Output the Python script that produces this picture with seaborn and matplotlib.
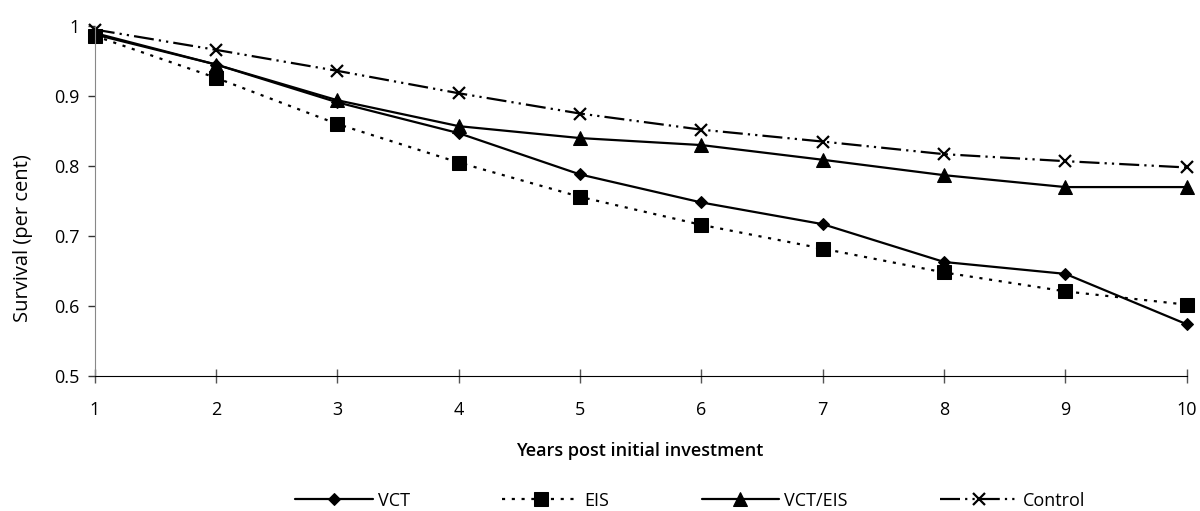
import matplotlib
matplotlib.use("Agg")
import matplotlib.pyplot as plt
import seaborn as sns
import pandas as pd

years = [1, 2, 3, 4, 5, 6, 7, 8, 9, 10]
vct = [0.988, 0.945, 0.891, 0.847, 0.788, 0.748, 0.717, 0.663, 0.646, 0.574]
eis = [0.986, 0.926, 0.860, 0.805, 0.756, 0.716, 0.682, 0.648, 0.621, 0.602]
vct_eis = [0.990, 0.945, 0.894, 0.857, 0.840, 0.830, 0.809, 0.787, 0.770, 0.770]
control = [0.995, 0.966, 0.936, 0.904, 0.875, 0.852, 0.835, 0.817, 0.807, 0.798]
series_names = ["VCT", "EIS", "VCT/EIS", "Control"]
yticks = [0.5, 0.6, 0.7, 0.8, 0.9, 1.0]
ytick_labels = ["0.5", "0.6", "0.7", "0.8", "0.9", "1"]

sns.set_style("white")
plt.rcParams['font.family'] = ['Open Sans', 'DejaVu Sans']
plt.rcParams['text.color'] = 'black'
plt.rcParams['axes.labelcolor'] = 'black'
plt.rcParams['xtick.color'] = 'black'
plt.rcParams['ytick.color'] = 'black'

fig = plt.figure(figsize=(12, 5.11), dpi=100)
ax = fig.add_axes([0.079, 0.264, 0.910, 0.685])

styles = {
    "VCT": dict(marker="D", markersize=6, linestyle="-"),
    "EIS": dict(marker="s", markersize=10, linestyle=(0, (1.4, 3))),
    "VCT/EIS": dict(marker="^", markersize=10, linestyle="-"),
    "Control": dict(marker="x", markersize=9, markeredgewidth=1.6,
                    linestyle=(0, (9, 2.3, 1, 2.3, 1, 2.3))),
}
data = {"VCT": vct, "EIS": eis, "VCT/EIS": vct_eis, "Control": control}
for name in series_names:
    df = pd.DataFrame({"year": years, "val": data[name]})
    sns.lineplot(data=df, x="year", y="val", ax=ax, color="black", linewidth=1.6,
                 label=name, markeredgecolor="black", markerfacecolor="black",
                 clip_on=False, **styles[name])

ax.set_xlim(1, 10)
ax.set_ylim(0.5, 1.0)
ax.set_xticks(years)
ax.set_yticks(yticks)
ax.set_yticklabels(ytick_labels)
ax.tick_params(axis="x", direction="inout", length=10, width=1, labelsize=13, pad=13, color="#555555")
ax.tick_params(axis="y", direction="out", length=5, width=1, labelsize=13, pad=6, color="#333333")
ax.tick_params(left=True, bottom=True)
for s in ["top", "right"]:
    ax.spines[s].set_visible(False)
ax.spines["left"].set_color("#888888")
ax.spines["bottom"].set_color("black")
ax.set_xlabel("Years post initial investment", fontsize=13, fontweight="semibold")
ax.set_ylabel("Survival (per cent)", fontsize=14.5)
ax.xaxis.set_label_coords(0.499, -0.188)
ax.yaxis.set_label_coords(-0.057, 0.394)

ax.legend_.remove()
handles, labels = ax.get_legend_handles_labels()
fig.legend(handles, labels, loc="center", bbox_to_anchor=(0.575, 0.02), ncol=4,
           frameon=False, handlelength=4.3, columnspacing=5.1, fontsize=13,
           handletextpad=0.28)

fig.savefig("out.png", dpi=100)
